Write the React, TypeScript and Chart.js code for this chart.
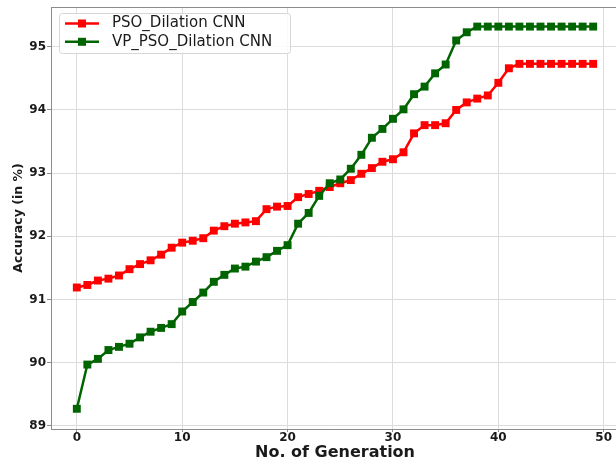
import React, { useEffect, useRef } from "react";
import { Chart, registerables } from "chart.js";

Chart.register(...registerables);

// Generation index 0..49
const generations: number[] = Array.from({ length: 50 }, (_, i) => i);

const psoAccuracy: number[] = [
  91.19, 91.23, 91.3, 91.33, 91.38, 91.48, 91.56, 91.62, 91.71, 91.82,
  91.9, 91.93, 91.97, 92.09, 92.16, 92.2, 92.22, 92.24, 92.43, 92.47,
  92.48, 92.62, 92.67, 92.72, 92.78, 92.84, 92.89, 92.99, 93.08, 93.18,
  93.22, 93.33, 93.63, 93.76, 93.76, 93.79, 94.0, 94.12, 94.18, 94.23,
  94.43, 94.66, 94.73, 94.73, 94.73, 94.73, 94.73, 94.73, 94.73, 94.73,
];

const vpPsoAccuracy: number[] = [
  89.27, 89.97, 90.06, 90.2, 90.25, 90.3, 90.4, 90.49, 90.55, 90.61,
  90.81, 90.96, 91.11, 91.28, 91.39, 91.49, 91.52, 91.6, 91.67, 91.77,
  91.86, 92.2, 92.37, 92.64, 92.84, 92.9, 93.07, 93.29, 93.56, 93.7,
  93.86, 94.01, 94.25, 94.37, 94.58, 94.72, 95.1, 95.23, 95.32, 95.32,
  95.32, 95.32, 95.32, 95.32, 95.32, 95.32, 95.32, 95.32, 95.32, 95.32,
];

const xTicks: number[] = [0, 10, 20, 30, 40, 50];
const yTicks: number[] = [89, 90, 91, 92, 93, 94, 95];

const seriesNames = ["PSO_Dilation CNN", "VP_PSO_Dilation CNN"];
const seriesColors = ["#ff0000", "#006400"];

const CANVAS_W = 630;
const CANVAS_H = 459;

// Full box of spines around the plotting area
const spinesPlugin = {
  id: "spines",
  afterDraw(chart: any) {
    const { ctx, chartArea } = chart;
    ctx.save();
    ctx.strokeStyle = "#8c8c8c";
    ctx.lineWidth = 1;
    ctx.strokeRect(
      Math.round(chartArea.left) + 0.5,
      Math.round(chartArea.top) + 0.5,
      Math.round(chartArea.right - chartArea.left),
      Math.round(chartArea.bottom - chartArea.top)
    );
    ctx.restore();
  },
};

// Legend box with a line + square marker sample for each series
const legendPlugin = {
  id: "lineLegend",
  afterDraw(chart: any) {
    const { ctx } = chart;
    const x0 = 59.5;
    const y0 = 13.5;
    const w = 231;
    const h = 40;
    const r = 3;
    ctx.save();
    ctx.beginPath();
    ctx.moveTo(x0 + r, y0);
    ctx.lineTo(x0 + w - r, y0);
    ctx.arcTo(x0 + w, y0, x0 + w, y0 + r, r);
    ctx.lineTo(x0 + w, y0 + h - r);
    ctx.arcTo(x0 + w, y0 + h, x0 + w - r, y0 + h, r);
    ctx.lineTo(x0 + r, y0 + h);
    ctx.arcTo(x0, y0 + h, x0, y0 + h - r, r);
    ctx.lineTo(x0, y0 + r);
    ctx.arcTo(x0, y0, x0 + r, y0, r);
    ctx.closePath();
    ctx.fillStyle = "rgba(255,255,255,0.85)";
    ctx.fill();
    ctx.strokeStyle = "#d6d6d6";
    ctx.lineWidth = 1;
    ctx.stroke();

    chart.data.datasets.forEach((ds: any, i: number) => {
      const cy = 23.5 + i * 18.3;
      ctx.strokeStyle = ds.borderColor;
      ctx.lineWidth = 2.5;
      ctx.beginPath();
      ctx.moveTo(65, cy);
      ctx.lineTo(99, cy);
      ctx.stroke();
      ctx.fillStyle = ds.borderColor;
      ctx.fillRect(82 - 4, cy - 4, 8, 8);
      ctx.fillStyle = "#1a1a1a";
      ctx.font = "15px 'DejaVu Sans'";
      ctx.textBaseline = "middle";
      ctx.textAlign = "left";
      ctx.fillText(ds.label, 112, cy);
    });
    ctx.restore();
  },
};

export default function App() {
  const canvasRef = useRef<HTMLCanvasElement | null>(null);

  useEffect(() => {
    if (!canvasRef.current) return;
    const toPoints = (vals: number[]) =>
      vals.map((v, i) => ({ x: generations[i], y: v }));

    const chart = new Chart(canvasRef.current, {
      type: "line",
      data: {
        datasets: [
          {
            label: seriesNames[0],
            data: toPoints(psoAccuracy),
            borderColor: seriesColors[0],
            backgroundColor: seriesColors[0],
            borderWidth: 2.5,
            pointStyle: "rect",
            pointRadius: 5.6,
            pointBorderWidth: 0,
            pointHoverRadius: 5.6,
            tension: 0,
            order: 1,
          },
          {
            label: seriesNames[1],
            data: toPoints(vpPsoAccuracy),
            borderColor: seriesColors[1],
            backgroundColor: seriesColors[1],
            borderWidth: 2.5,
            pointStyle: "rect",
            pointRadius: 5.6,
            pointBorderWidth: 0,
            pointHoverRadius: 5.6,
            tension: 0,
            order: 0,
          },
        ],
      },
      options: {
        responsive: false,
        animation: false,
        events: [],
        layout: { padding: { top: 7, left: 0, right: CANVAS_W - 619, bottom: 0 } },
        plugins: {
          legend: { display: false },
          tooltip: { enabled: false },
        },
        scales: {
          x: {
            type: "linear",
            min: -2.45,
            max: 51.45,
            afterBuildTicks(scale: any) {
              scale.ticks = xTicks.map((v) => ({ value: v }));
            },
            afterFit(scale: any) {
              scale.height = 30;
              scale.paddingLeft = 0;
              scale.paddingRight = 0;
            },
            grid: {
              color: "#dcdcdc",
              lineWidth: 1,
              drawTicks: true,
              tickLength: 3,
              tickColor: "#8c8c8c",
            },
            border: { color: "#8c8c8c", width: 1 },
            ticks: {
              color: "#1a1a1a",
              padding: 0,
              maxRotation: 0,
              autoSkip: false,
              font: { family: "'DejaVu Sans'", size: 12, weight: "bold", lineHeight: 1 },
              callback: (v: any) => String(v),
            },
            title: {
              display: true,
              text: "No. of Generation",
              color: "#1a1a1a",
              padding: { top: 0, bottom: -2 },
              font: { family: "'DejaVu Sans'", size: 16, weight: "bold", lineHeight: 1 },
            },
          },
          y: {
            type: "linear",
            min: 88.95,
            max: 95.63,
            afterBuildTicks(scale: any) {
              scale.ticks = yTicks.map((v) => ({ value: v }));
            },
            afterFit(scale: any) {
              scale.width = 51;
              scale.paddingTop = 0;
              scale.paddingBottom = 0;
            },
            grid: {
              color: "#dcdcdc",
              lineWidth: 1,
              drawTicks: true,
              tickLength: 4,
              tickColor: "#8c8c8c",
            },
            border: { color: "#8c8c8c", width: 1 },
            ticks: {
              color: "#1a1a1a",
              padding: 1,
              autoSkip: false,
              font: { family: "'DejaVu Sans'", size: 12, weight: "bold", lineHeight: 1 },
              callback: (v: any) => String(v),
            },
            title: {
              display: true,
              text: "Accuracy (in %)",
              color: "#1a1a1a",
              padding: { top: 12, bottom: 0 },
              font: { family: "'DejaVu Sans'", size: 12.5, weight: "bold", lineHeight: 1 },
            },
          },
        },
      },
      plugins: [spinesPlugin, legendPlugin],
    });

    return () => chart.destroy();
  }, []);

  return (
    <div
      style={{
        position: "fixed",
        left: 0,
        top: 0,
        width: 616,
        height: 459,
        overflow: "hidden",
        background: "#ffffff",
      }}
    >
      <canvas
        ref={canvasRef}
        width={CANVAS_W}
        height={CANVAS_H}
        style={{ display: "block", width: CANVAS_W, height: CANVAS_H }}
      />
    </div>
  );
}
